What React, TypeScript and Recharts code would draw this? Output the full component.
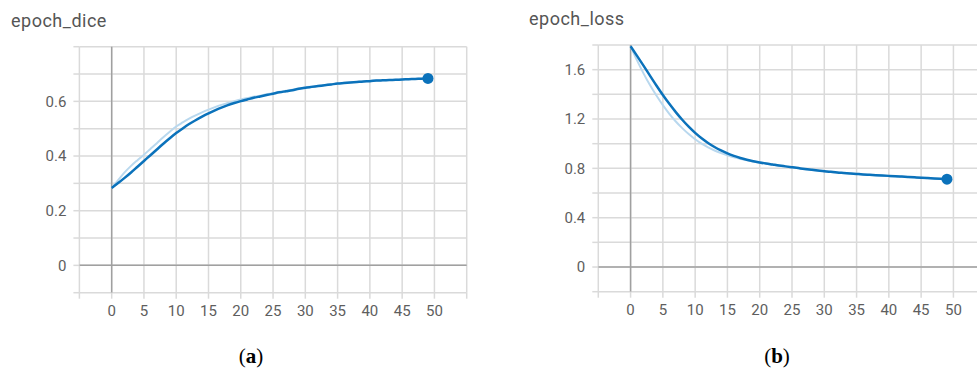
import React from 'react';
import { LineChart, Line, XAxis, YAxis, CartesianGrid, ReferenceLine } from 'recharts';

const epochs = [0,1,2,3,4,5,6,7,8,9,10,11,12,13,14,15,16,17,18,19,20,21,22,23,24,25,26,27,28,29,30,31,32,33,34,35,36,37,38,39,40,41,42,43,44,45,46,47,48,49];

const diceSmoothed = [0.283,0.301,0.320,0.340,0.361,0.382,0.403,0.424,0.445,0.465,0.484,0.501,0.517,0.531,0.544,0.556,0.567,0.577,0.586,0.594,0.601,0.607,0.613,0.618,0.623,0.628,0.633,0.637,0.641,0.646,0.650,0.653,0.656,0.659,0.662,0.665,0.667,0.669,0.671,0.673,0.674,0.676,0.677,0.678,0.679,0.680,0.681,0.682,0.683,0.684];
const diceRaw = [0.283,0.312,0.340,0.364,0.385,0.405,0.426,0.447,0.469,0.489,0.508,0.523,0.537,0.549,0.560,0.570,0.579,0.587,0.594,0.601,0.607,0.612,0.617,0.621,0.626,0.630,0.635,0.639,0.643,0.647,0.651,0.654,0.657,0.660,0.663,0.665,0.668,0.670,0.671,0.673,0.675,0.676,0.677,0.678,0.679,0.680,0.681,0.682,0.683,0.684];

const lossSmoothed = [1.790,1.712,1.633,1.552,1.472,1.395,1.323,1.256,1.194,1.138,1.088,1.044,1.006,0.973,0.945,0.921,0.901,0.884,0.870,0.858,0.848,0.839,0.831,0.823,0.816,0.809,0.802,0.795,0.789,0.783,0.777,0.772,0.767,0.763,0.759,0.755,0.751,0.748,0.745,0.742,0.739,0.736,0.733,0.730,0.727,0.724,0.721,0.718,0.715,0.712];
const lossRaw = [1.790,1.675,1.570,1.475,1.390,1.312,1.242,1.180,1.126,1.078,1.036,1.000,0.970,0.945,0.924,0.906,0.890,0.877,0.865,0.855,0.846,0.837,0.829,0.821,0.814,0.807,0.800,0.793,0.787,0.781,0.776,0.771,0.766,0.762,0.758,0.754,0.750,0.747,0.744,0.741,0.738,0.735,0.732,0.729,0.726,0.723,0.720,0.717,0.714,0.711];

const xTicks = [-5,0,5,10,15,20,25,30,35,40,45,50,55];
const xLabels = [0,5,10,15,20,25,30,35,40,45,50];
const diceYTicks = [-0.1,0,0.1,0.2,0.3,0.4,0.5,0.6,0.7,0.8];
const diceYLabels = ['0','0.2','0.4','0.6'];
const lossYTicks = [-0.2,0,0.2,0.4,0.6,0.8,1,1.2,1.4,1.6,1.8];
const lossYLabels = ['0','0.4','0.8','1.2','1.6'];

const titles = ['epoch_dice', 'epoch_loss'];
const panelTags = ['a', 'b'];

const diceData = epochs.map((e, i) => ({ epoch: e, smooth: diceSmoothed[i], raw: diceRaw[i] }));
const lossData = epochs.map((e, i) => ({ epoch: e, smooth: lossSmoothed[i], raw: lossRaw[i] }));

const DARK = '#0b72bb';
const LIGHT = '#b9d8ee';
const GRID = '#dadada';
const ZERO = '#a0a0a0';
const LABEL = '#5e5e5e';
const FONT = 'Roboto, "Noto Sans", sans-serif';

const fmt = (v: number) => {
  const r = Math.round(v * 10) / 10;
  return String(r);
};

const XTick = (props: any) => {
  const v = props.payload.value;
  if (!xLabels.includes(v)) return <g />;
  return (
    <text x={props.x} y={props.y} dy="0.71em" textAnchor="middle" fill={LABEL} fontSize={15} fontFamily={FONT}>
      {v}
    </text>
  );
};

const makeYTick = (labels: string[]) => (props: any) => {
  const s = fmt(props.payload.value);
  if (!labels.includes(s)) return <g />;
  return (
    <text x={props.x} y={props.y} dy="0.355em" textAnchor="end" fill={LABEL} fontSize={15} fontFamily={FONT}>
      {s}
    </text>
  );
};

const lastDot = (props: any) => {
  const { cx, cy, index } = props;
  if (index !== epochs.length - 1) return <g key={`d${index}`} />;
  return <circle key={`d${index}`} cx={cx} cy={cy} r={5.5} fill={DARK} />;
};

type PanelProps = {
  data: any[];
  yTicks: number[];
  yLabels: string[];
  width: number;
  margin: { top: number; right: number; bottom: number; left: number };
};

const Panel = ({ data, yTicks, yLabels, width, margin }: PanelProps) => (
  <LineChart width={width} height={330} data={data} margin={margin}>
    <CartesianGrid stroke={GRID} strokeWidth={1.5} />
    <XAxis
      dataKey="epoch"
      type="number"
      domain={[xTicks[0], xTicks[xTicks.length - 1]]}
      ticks={xTicks}
      interval={0}
      axisLine={false}
      tickLine={{ stroke: GRID, strokeWidth: 1.5 }}
      tickSize={6}
      tickMargin={7}
      height={30}
      tick={<XTick />}
    />
    <YAxis
      type="number"
      domain={[yTicks[0], yTicks[yTicks.length - 1]]}
      ticks={yTicks}
      interval={0}
      allowDataOverflow
      axisLine={false}
      tickLine={{ stroke: GRID, strokeWidth: 1.5 }}
      tickSize={6}
      tickMargin={7}
      width={60}
      tick={makeYTick(yLabels)}
    />
    <ReferenceLine x={0} stroke={ZERO} strokeWidth={1.5} />
    <ReferenceLine y={0} stroke={ZERO} strokeWidth={1.5} />
    <Line type="monotone" dataKey="raw" stroke={LIGHT} strokeWidth={2} dot={false} isAnimationActive={false} />
    <Line type="monotone" dataKey="smooth" stroke={DARK} strokeWidth={2.5} dot={lastDot} activeDot={false} isAnimationActive={false} />
  </LineChart>
);

export default function App() {
  return (
    <div style={{ position: 'absolute', left: 0, top: 0, width: 977, height: 379, overflow: 'hidden', background: '#fff' }}>
      <div style={{ position: 'absolute', left: 0, top: 0 }}>
        <Panel
          data={diceData}
          yTicks={diceYTicks}
          yLabels={diceYLabels}
          width={480}
          margin={{ top: 46.7, right: 13.3, bottom: 7.3, left: 19.4 }}
        />
      </div>
      <div style={{ position: 'absolute', left: 500, top: 0 }}>
        <Panel
          data={lossData}
          yTicks={lossYTicks}
          yLabels={lossYLabels}
          width={500}
          margin={{ top: 45, right: 14.3, bottom: 8.3, left: 38.3 }}
        />
      </div>
      <svg width={977} height={379} style={{ position: 'absolute', left: 0, top: 0, pointerEvents: 'none' }}>
        <text x={11} y={27} fill="#555" fontSize={18} letterSpacing={0.5} fontFamily={FONT}>{titles[0]}</text>
        <text x={529} y={25} fill="#555" fontSize={18} letterSpacing={0.5} fontFamily={FONT}>{titles[1]}</text>
        <text x={251} y={363} textAnchor="middle" fill="#000" fontSize={21} fontFamily='"Liberation Serif", "DejaVu Serif", serif'>
          (<tspan fontWeight="bold">{panelTags[0]}</tspan>)
        </text>
        <text x={777} y={363} textAnchor="middle" fill="#000" fontSize={21} fontFamily='"Liberation Serif", "DejaVu Serif", serif'>
          (<tspan fontWeight="bold">{panelTags[1]}</tspan>)
        </text>
      </svg>
    </div>
  );
}
